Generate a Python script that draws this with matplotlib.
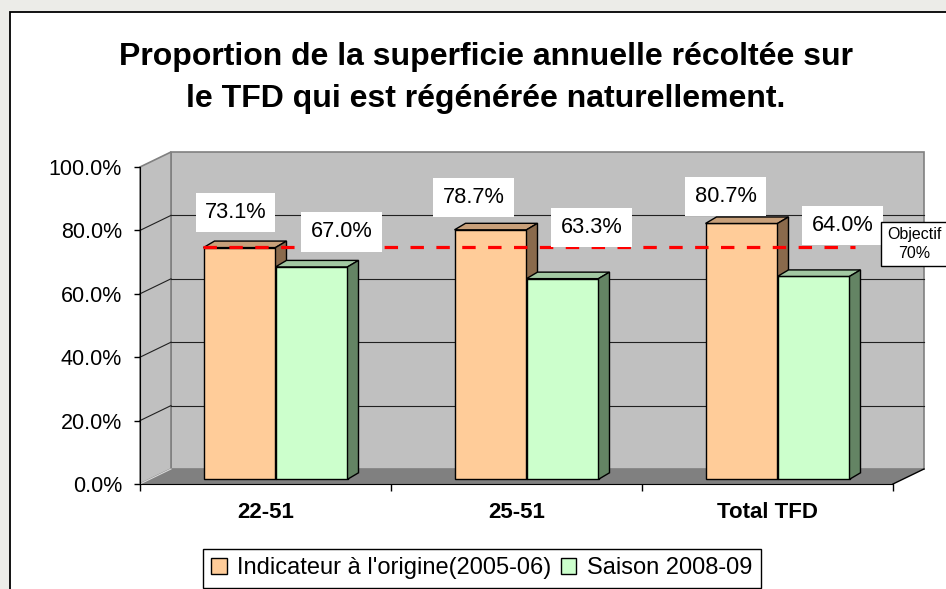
import matplotlib
matplotlib.use("Agg")
import matplotlib.pyplot as plt
from matplotlib.patches import Polygon, Rectangle, Patch
from matplotlib.ticker import FuncFormatter

plt.rcParams['font.family'] = ['Liberation Sans', 'DejaVu Sans']

# ---------------- data ----------------
categories = ["22-51", "25-51", "Total TFD"]
series_names = ["Indicateur à l'origine(2005-06)", "Saison 2008-09"]
origine = [73.1, 78.7, 80.7]
saison = [67.0, 63.3, 64.0]
objective = 70.0
objective_label = "Objectif\n70%"
title_lines = ["Proportion de la superficie annuelle récoltée sur",
               "le TFD qui est régénérée naturellement."]
yticks = [0, 20, 40, 60, 80, 100]

# ---------------- style / layout ----------------
W, H = 946, 589
fig = plt.figure(figsize=(W / 100, H / 100), dpi=100)
fig.patch.set_facecolor('#ecece8')

# white chart area with black border
fig.patches.append(Rectangle((10 / W, -0.2), 1.2, 1.2 - 12 / H,
                             transform=fig.transFigure, facecolor='white',
                             edgecolor='black', lw=1.3, zorder=-5))

# front plane of the 3D plot area in pixels
PX_L, PX_R, PX_B, PX_T = 140, 893, 484, 167
ax = fig.add_axes([PX_L / W, (H - PX_B) / H, (PX_R - PX_L) / W, (PX_B - PX_T) / H])
ax.set_zorder(1)
ax.set_xlim(0, 3)
ax.set_ylim(0, 100)
ax.patch.set_alpha(0)

px_x = (PX_R - PX_L) / 3.0     # pixels per category unit
px_y = (PX_B - PX_T) / 100.0   # pixels per percent

DX, DY = 31 / px_x, 15 / px_y          # wall depth
BOX, BOY = 10 / px_x, 4.7 / px_y       # bar front offset
BDX, BDY = 11 / px_x, 6.5 / px_y       # bar depth
BW = 72 / px_x                         # bar width

wall_c = '#c0c0c0'
wall_edge = '#808080'
floor_c = '#808080'

# back wall
ax.add_patch(Rectangle((DX, DY), 3, 100, facecolor=wall_c, edgecolor=wall_edge,
                       lw=1.2, clip_on=False, zorder=0.5))
# left wall
ax.add_patch(Polygon([(0, 0), (0, 100), (DX, 100 + DY), (DX, DY)], closed=True,
                     facecolor=wall_c, edgecolor=wall_edge, lw=1.2, clip_on=False, zorder=0.6))
# floor
ax.add_patch(Polygon([(0, 0), (3, 0), (3 + DX, DY), (DX, DY)], closed=True,
                     facecolor=floor_c, edgecolor='none', clip_on=False, zorder=0.7))
ax.plot([3, 3 + DX], [0, DY], color='black', lw=1.0, clip_on=False, zorder=0.8)
ax.plot([0, DX], [0, DY], color='#d8d8d8', lw=0.8, clip_on=False, zorder=0.8)

# gridlines
for g in yticks[1:-1]:
    ax.plot([DX, 3 + DX], [g + DY, g + DY], color='#202020', lw=0.8, clip_on=False, zorder=0.9)
    ax.plot([0, DX], [g, g + DY], color='#202020', lw=0.8, clip_on=False, zorder=0.9)

# bars
series = [origine, saison]
front_cols = ['#ffcc99', '#ccffcc']
top_cols = ['#c8a07a', '#a2c8a2']
side_cols = ['#8a6a4c', '#648464']
bar_centers = []
for s, vals in enumerate(series):
    xs = [i + 0.5 + BOX - BW + s * BW for i in range(len(vals))]
    z = 3 + s
    ax.bar(xs, vals, width=BW, bottom=BOY, align='edge', color=front_cols[s],
           edgecolor='black', lw=1.0, zorder=z, clip_on=False)
    centers = []
    for x0, v in zip(xs, vals):
        x1 = x0 + BW
        top = BOY + v
        ax.add_patch(Polygon([(x0, top), (x1, top), (x1 + BDX, top + BDY), (x0 + BDX, top + BDY)],
                             closed=True, facecolor=top_cols[s], edgecolor='black', lw=1.0,
                             zorder=z + 0.1, clip_on=False))
        ax.add_patch(Polygon([(x1, BOY), (x1, top), (x1 + BDX, top + BDY), (x1 + BDX, BOY + BDY)],
                             closed=True, facecolor=side_cols[s], edgecolor='black', lw=1.0,
                             zorder=z + 0.1, clip_on=False))
        centers.append((x0 + BW / 2, top))
    bar_centers.append(centers)

# objective dashed line (drawn on back wall plane)
obj_x0, obj_x1 = 63 / px_x, 715 / px_x
ax.plot([obj_x0, obj_x1], [objective + DY, objective + DY], color='#ff0000', lw=2.3,
        linestyle=(0, (4.2, 3.9)), zorder=8, clip_on=False)

# data labels (pixel offsets from top-centre of each bar front face)
label_offsets = [[(-4, 35), (-17, 32), (-16, 27)],
                 [(30, 35), (29, 51), (29, 51)]]
for s, vals in enumerate(series):
    for (cx, ty), v, off in zip(bar_centers[s], vals, label_offsets[s]):
        ax.annotate(f"{v:.1f}%", xy=(cx, ty), xytext=off, textcoords='offset pixels',
                    ha='center', va='center', fontsize=15.7, zorder=10,
                    bbox=dict(boxstyle='square,pad=0.42', facecolor='white', edgecolor='none'))

# objective label box
fig.text(914 / W, 1 - 244 / H, objective_label, ha='center', va='center', fontsize=11.5,
         linespacing=1.3, zorder=12,
         bbox=dict(boxstyle='square,pad=0.35', facecolor='white', edgecolor='black', lw=1.0))

# axes styling
for sp in ['top', 'right']:
    ax.spines[sp].set_visible(False)
ax.spines['left'].set_color('black')
ax.spines['bottom'].set_color('black')
ax.spines['left'].set_zorder(2)
ax.spines['bottom'].set_zorder(2)
ax.set_yticks(yticks)
ax.yaxis.set_major_formatter(FuncFormatter(lambda v, p: f"{v:.1f}%"))
ax.tick_params(axis='y', direction='out', length=4, width=1.0, pad=9, labelsize=15.5)
for lbl in ax.get_yticklabels():
    lbl.set_va('center_baseline')
ax.set_xticks([0, 1, 2, 3])
ax.set_xticklabels([])
ax.tick_params(axis='x', which='major', direction='out', length=5, width=1.0)
ax.set_xticks([i + 0.5 for i in range(len(categories))], minor=True)
ax.set_xticklabels(categories, minor=True, fontsize=16, fontweight='bold')
ax.tick_params(axis='x', which='minor', length=0, pad=13)

# title
fig.text(486 / W, 1 - 65 / H, title_lines[0], ha='center', va='baseline',
         fontsize=23, fontweight='bold')
fig.text(486 / W, 1 - 107 / H, title_lines[1], ha='center', va='baseline',
         fontsize=23, fontweight='bold')

# legend
handles = [Patch(facecolor=front_cols[0], edgecolor='black', lw=1.0),
           Patch(facecolor=front_cols[1], edgecolor='black', lw=1.0)]
leg = fig.legend(handles, series_names, loc='upper left',
                 bbox_to_anchor=(203 / W, 1 - 549 / H), ncol=2, fontsize=17,
                 frameon=True, fancybox=False, framealpha=1, edgecolor='black',
                 handlelength=0.65, handleheight=0.65, handletextpad=0.45,
                 columnspacing=0.4, borderpad=0.35, borderaxespad=0)
leg.get_frame().set_linewidth(1.0)

fig.savefig("out.png", dpi=100, facecolor=fig.get_facecolor())
